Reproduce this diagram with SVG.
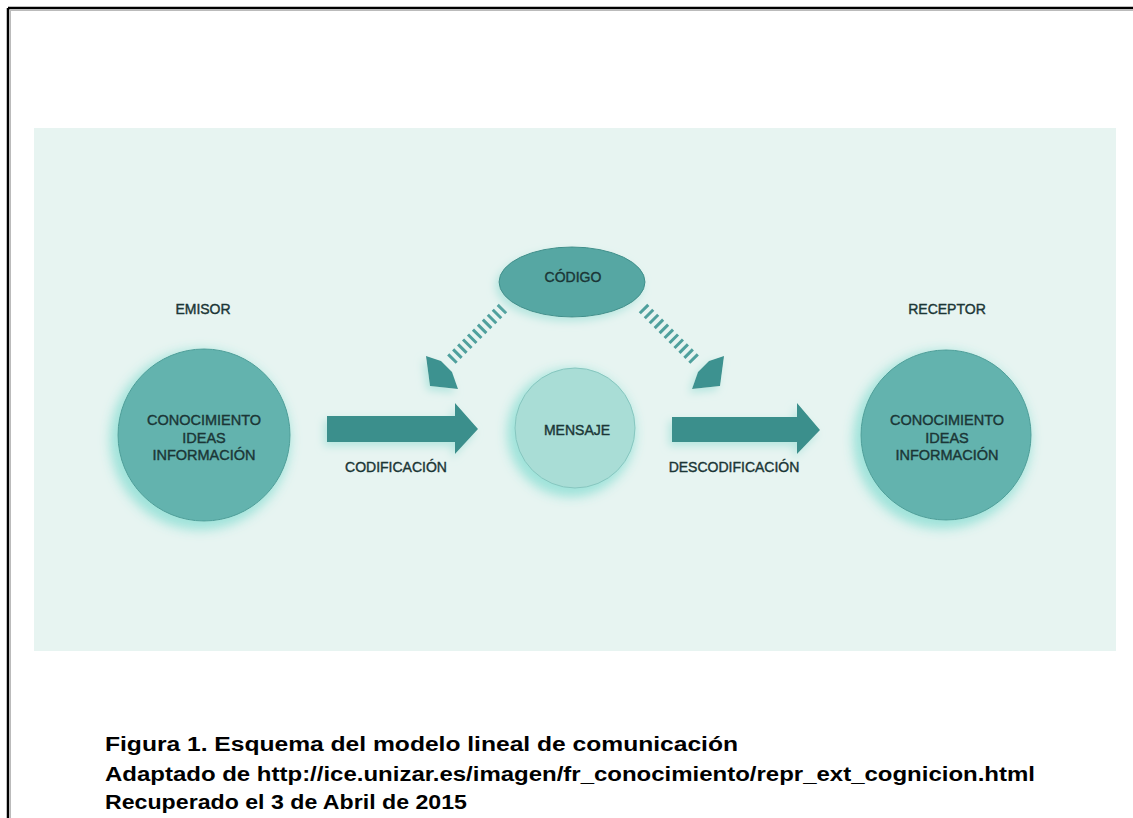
<svg xmlns="http://www.w3.org/2000/svg" width="1133" height="818" viewBox="0 0 1133 818">
<defs>
<filter id="glow" x="-40%" y="-40%" width="180%" height="180%">
<feGaussianBlur in="SourceAlpha" stdDeviation="7" result="b"/>
<feOffset in="b" dx="-4" dy="5" result="o"/>
<feFlood flood-color="#9fe3da" result="c"/>
<feComposite in="c" in2="o" operator="in" result="g"/>
<feMerge><feMergeNode in="g"/><feMergeNode in="g"/><feMergeNode in="SourceGraphic"/></feMerge>
</filter>
<filter id="soft" x="-40%" y="-40%" width="180%" height="180%">
<feGaussianBlur in="SourceAlpha" stdDeviation="4" result="b"/>
<feOffset in="b" dx="-3" dy="4" result="o"/>
<feFlood flood-color="#b5e6df" result="c"/>
<feComposite in="c" in2="o" operator="in" result="g"/>
<feMerge><feMergeNode in="g"/><feMergeNode in="SourceGraphic"/></feMerge>
</filter>
</defs>
<style>
.lbl{font-family:"Liberation Sans",Arial,sans-serif;font-size:14px;fill:#1b3636;stroke:#1b3636;stroke-width:0.4;text-anchor:middle}
.in{font-size:14.5px}
.big{fill:#63b3ae;stroke:#4c9d98;stroke-width:1}
.arrow{fill:#3a8f8c}
.stripe{fill:none;stroke:#4fa09d;stroke-width:12;stroke-dasharray:3 4}
.head{fill:#3e9290}
.cap{font-family:"Liberation Sans",Arial,sans-serif;font-size:20px;font-weight:bold;fill:#000}
</style>
<rect x="0" y="0" width="1133" height="818" fill="#ffffff"/>
<g id="frame">
<line x1="8" y1="8" x2="1133" y2="8" stroke="#000" stroke-width="2.5"/>
<line x1="8" y1="8" x2="8" y2="818" stroke="#000" stroke-width="2.5"/>
<line x1="10" y1="10.5" x2="1133" y2="10.5" stroke="#bbbbbb" stroke-width="1"/>
<line x1="10.5" y1="10" x2="10.5" y2="818" stroke="#bbbbbb" stroke-width="1"/>
</g>
<rect id="panel" x="34" y="128" width="1082" height="523" fill="#e7f4f1"/>
<g id="connectors">
<polygon class="arrow" filter="url(#soft)" points="327,416 455,416 455,403 478,429 455,454 455,442 327,442"/>
<polygon class="arrow" filter="url(#soft)" points="672,417 797,417 797,403 820,430 797,454 797,442 672,442"/>
<line class="stripe" x1="503" y1="308" x2="450" y2="361"/>
<polygon class="head" filter="url(#soft)" points="426,356 441,361 452,372 458,389 430,386"/>
<line class="stripe" x1="643" y1="308" x2="696" y2="361"/>
<polygon class="head" filter="url(#soft)" points="724,356 709,361 698,372 692,389 720,386"/>
<text class="lbl" x="396" y="472">CODIFICACIÓN</text>
<text class="lbl" x="734" y="472">DESCODIFICACIÓN</text>
</g>
<g id="emisor">
<text class="lbl" x="203" y="314">EMISOR</text>
<circle class="big" filter="url(#glow)" cx="204" cy="435" r="86"/>
<text class="lbl in" x="204" y="425">CONOCIMIENTO</text>
<text class="lbl in" x="204" y="443">IDEAS</text>
<text class="lbl in" x="204" y="460">INFORMACIÓN</text>
</g>
<g id="codigo">
<ellipse cx="572" cy="282" rx="73" ry="35" fill="#56a7a3" stroke="#3f8f8b" stroke-width="1" filter="url(#soft)"/>
<text class="lbl" x="573" y="282">CÓDIGO</text>
</g>
<g id="mensaje">
<circle cx="575" cy="428" r="60" fill="#a9ddd6" stroke="#86c6bf" stroke-width="1" filter="url(#glow)"/>
<text class="lbl" x="577" y="435">MENSAJE</text>
</g>
<g id="receptor">
<text class="lbl" x="947" y="314">RECEPTOR</text>
<circle class="big" filter="url(#glow)" cx="946" cy="435" r="85"/>
<text class="lbl in" x="947" y="425">CONOCIMIENTO</text>
<text class="lbl in" x="947" y="443">IDEAS</text>
<text class="lbl in" x="947" y="460">INFORMACIÓN</text>
</g>
<g id="caption">
<text class="cap" x="105" y="751" textLength="633" lengthAdjust="spacingAndGlyphs">Figura 1. Esquema del modelo lineal de comunicación</text>
<text class="cap" x="105" y="781" textLength="930" lengthAdjust="spacingAndGlyphs">Adaptado de http://ice.unizar.es/imagen/fr_conocimiento/repr_ext_cognicion.html</text>
<text class="cap" x="105" y="809" textLength="362" lengthAdjust="spacingAndGlyphs">Recuperado el 3 de Abril de 2015</text>
</g>
</svg>
